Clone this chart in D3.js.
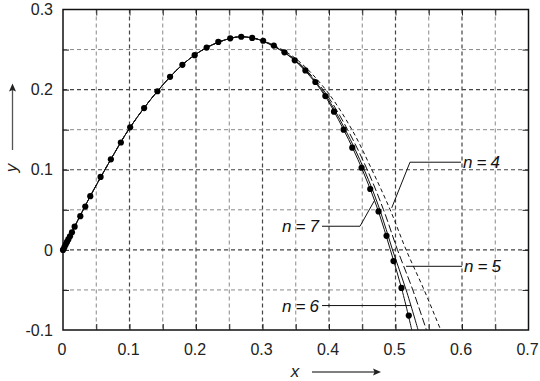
<!DOCTYPE html>
<html>
<head>
<meta charset="utf-8">
<script src="https://cdn.jsdelivr.net/npm/d3@7"></script>
<style>
  body { margin: 0; background: #fff; }
  svg { display: block; font-family: "Liberation Sans", Arial, sans-serif; }
</style>
</head>
<body>
<script>
// measured points (dots)
const dotX = [0, 0.002, 0.004, 0.006, 0.008, 0.0105, 0.0135, 0.0175, 0.026, 0.0335, 0.041, 0.0565,
    0.072, 0.087, 0.101, 0.122, 0.142, 0.161, 0.1795, 0.198, 0.216, 0.2335, 0.2515, 0.268, 0.2845,
    0.301, 0.317, 0.333, 0.3485, 0.3645, 0.3795, 0.3945, 0.4075, 0.422, 0.435, 0.449, 0.462,
    0.4745, 0.4865, 0.497, 0.509, 0.520];
const dotY = [0, 0.0033, 0.0066, 0.0099, 0.013, 0.017, 0.022, 0.029, 0.042, 0.054, 0.067, 0.091,
    0.113, 0.134, 0.153, 0.177, 0.198, 0.216, 0.231, 0.243, 0.2525, 0.2595, 0.264, 0.266, 0.2645,
    0.261, 0.255, 0.2466, 0.2366, 0.224, 0.2095, 0.192, 0.1725, 0.150, 0.1275, 0.1025, 0.076,
    0.048, 0.0175, -0.014, -0.0475, -0.082];

// common rising part of the computed curves
const headX = [0, 0.0175, 0.041, 0.072, 0.101, 0.142, 0.1795, 0.216, 0.2515, 0.268, 0.2845];
const headY = [0, 0.029, 0.067, 0.113, 0.153, 0.198, 0.231, 0.2525, 0.264, 0.266, 0.2645];

// falling part: x for each n at these y levels
const tailY  = [0.26, 0.24, 0.2, 0.15, 0.1, 0.05, 0, -0.05, -0.1];
const tailX7 = [0.302, 0.343, 0.3875, 0.422, 0.4502, 0.4736, 0.4923, 0.5098, 0.5245];
const tailX6 = [0.3025, 0.344, 0.389, 0.4245, 0.453, 0.4765, 0.4955, 0.516, 0.534];
const tailX5 = [0.303, 0.3455, 0.391, 0.428, 0.4575, 0.482, 0.503, 0.526, 0.5465];
const tailX4 = [0.3045, 0.348, 0.395, 0.4345, 0.4645, 0.492, 0.516, 0.543, 0.568];

const seriesNames = ["n=7", "n=6", "n=5", "n=4"];
const seriesTails = [tailX7, tailX6, tailX5, tailX4];
const seriesDash = [null, null, "8,3", "4,3"];

const xTicks = [0, 0.1, 0.2, 0.3, 0.4, 0.5, 0.6, 0.7];
const yTicks = [-0.1, 0, 0.1, 0.2, 0.3];
const xGrid = [0.05, 0.1, 0.15, 0.2, 0.25, 0.3, 0.35, 0.4, 0.45, 0.5, 0.55, 0.6, 0.65];
const yGrid = [-0.05, 0, 0.05, 0.1, 0.15, 0.2, 0.25];

// label leaders, in data units
const labelName = ["n=4", "n=5", "n=7", "n=6"];
const labelPath = [
    [[0.5985, 0.1094], [0.5218, 0.1094], [0.4943, 0.0524]],
    [[0.6, -0.0205], [0.5158, -0.0205]],
    [[0.3895, 0.0295], [0.4466, 0.0295], [0.4692, 0.0628]],
    [[0.3895, -0.0695], [0.5233, -0.0695]]
];
const labelSide = ["start", "start", "end", "end"];

const width = 540, height = 381;
const x = d3.scaleLinear().domain([0, 0.7]).range([63, 528.5]);
const y = d3.scaleLinear().domain([-0.1, 0.3]).range([330, 9.5]);

const svg = d3.select("body").append("svg")
    .attr("width", width)
    .attr("height", height);

const isMajor = d => Math.abs(d * 10 - Math.round(d * 10)) < 1e-6;

// grid
const grid = svg.append("g");
grid.selectAll(".gx")
    .data(xGrid)
    .enter()
    .append("line")
    .attr("x1", d => x(d)).attr("x2", d => x(d))
    .attr("y1", y(0.3)).attr("y2", y(-0.1))
    .attr("stroke", d => isMajor(d) ? "#444" : "#888")
    .attr("stroke-width", d => isMajor(d) ? 1.2 : 1)
    .attr("stroke-dasharray", "4,3");
grid.selectAll(".gy")
    .data(yGrid)
    .enter()
    .append("line")
    .attr("y1", d => y(d)).attr("y2", d => y(d))
    .attr("x1", x(0)).attr("x2", x(0.7))
    .attr("stroke", d => isMajor(d) ? "#444" : "#888")
    .attr("stroke-width", d => isMajor(d) ? 1.2 : 1)
    .attr("stroke-dasharray", "4,3");

// inside ticks on all four sides
const tickLen = 6;
function styleAxis(g) {
    g.select(".domain").remove();
    g.selectAll(".tick line").attr("stroke", "#222").attr("stroke-width", 1);
}
svg.append("g").attr("transform", `translate(0,${y(-0.1)})`)
    .call(d3.axisBottom(x).tickValues(xGrid).tickSize(-tickLen).tickFormat(""))
    .call(styleAxis);
svg.append("g").attr("transform", `translate(0,${y(0.3)})`)
    .call(d3.axisTop(x).tickValues(xGrid).tickSize(-tickLen).tickFormat(""))
    .call(styleAxis);
svg.append("g").attr("transform", `translate(${x(0)},0)`)
    .call(d3.axisLeft(y).tickValues(yGrid).tickSize(-tickLen).tickFormat(""))
    .call(styleAxis);
svg.append("g").attr("transform", `translate(${x(0.7)},0)`)
    .call(d3.axisRight(y).tickValues(yGrid).tickSize(-tickLen).tickFormat(""))
    .call(styleAxis);

// tick labels
const xLab = svg.append("g").attr("transform", `translate(-1.5,${y(-0.1)})`)
    .call(d3.axisBottom(x).tickValues(xTicks).tickSize(0).tickPadding(14).tickFormat(d => String(d)));
const yLab = svg.append("g").attr("transform", `translate(${x(0)},0)`)
    .call(d3.axisLeft(y).tickValues(yTicks).tickSize(0).tickPadding(10).tickFormat(d => String(d)));
[xLab, yLab].forEach(g => {
    g.select(".domain").remove();
    g.selectAll("text").attr("font-size", 16).attr("fill", "#222")
        .attr("font-family", "'Liberation Sans', Arial, sans-serif");
});

// frame
svg.append("rect")
    .attr("x", x(0)).attr("y", y(0.3))
    .attr("width", x(0.7) - x(0)).attr("height", y(-0.1) - y(0.3))
    .attr("fill", "none")
    .attr("stroke", "#111")
    .attr("stroke-width", 1.5);

// curves
const line = d3.line()
    .x(d => x(d[0]))
    .y(d => y(d[1]))
    .curve(d3.curveCatmullRom.alpha(0.5));

const head = headX.map((v, i) => [v, headY[i]]);
const curves = svg.append("g");
seriesTails.forEach((tx, k) => {
    const pts = head.concat(tx.map((v, i) => [v, tailY[i]]));
    curves.append("path")
        .attr("d", line(pts))
        .attr("fill", "none")
        .attr("stroke", "#111")
        .attr("stroke-width", 1)
        .attr("stroke-dasharray", seriesDash[k])
        .attr("class", "curve-" + seriesNames[k]);
});

// dots
svg.append("g").selectAll("circle")
    .data(dotX.map((v, i) => [v, dotY[i]]))
    .enter()
    .append("circle")
    .attr("cx", d => x(d[0]))
    .attr("cy", d => y(d[1]))
    .attr("r", 3.1)
    .attr("fill", "#000");

// labels with leaders
const leader = d3.line().x(d => x(d[0])).y(d => y(d[1]));
labelName.forEach((name, i) => {
    const p = labelPath[i];
    svg.append("path")
        .attr("d", leader(p))
        .attr("fill", "none")
        .attr("stroke", "#111")
        .attr("stroke-width", 1);
    const start = labelSide[i] === "start";
    svg.append("text")
        .attr("x", x(p[0][0]) + (start ? 2 : -3))
        .attr("y", y(p[0][1]) + 6)
        .attr("text-anchor", labelSide[i])
        .attr("font-size", 17)
        .attr("font-style", "italic")
        .attr("fill", "#111")
        .attr("textLength", 37)
        .attr("lengthAdjust", "spacing")
        .text(name);
});

// axis titles with arrows
const arrowColor = "#555";
svg.append("text")
    .attr("x", 295).attr("y", 377)
    .attr("text-anchor", "middle")
    .attr("font-size", 17)
    .attr("font-style", "italic")
    .attr("fill", "#222")
    .text("x");
svg.append("line")
    .attr("x1", 312).attr("y1", 372).attr("x2", 375).attr("y2", 372)
    .attr("stroke", arrowColor).attr("stroke-width", 1.3);
svg.append("path")
    .attr("d", "M381,372 L373,368.5 L374.5,372 L373,375.5 Z")
    .attr("fill", "#222");

svg.append("text")
    .attr("transform", "translate(17,168) rotate(-90)")
    .attr("text-anchor", "middle")
    .attr("font-size", 17)
    .attr("font-style", "italic")
    .attr("fill", "#222")
    .text("y");
svg.append("line")
    .attr("x1", 12.5).attr("y1", 150).attr("x2", 12.5).attr("y2", 90)
    .attr("stroke", arrowColor).attr("stroke-width", 1.3);
svg.append("path")
    .attr("d", "M12.5,83.5 L9,91.5 L12.5,90 L16,91.5 Z")
    .attr("fill", "#222");
</script>
</body>
</html>
